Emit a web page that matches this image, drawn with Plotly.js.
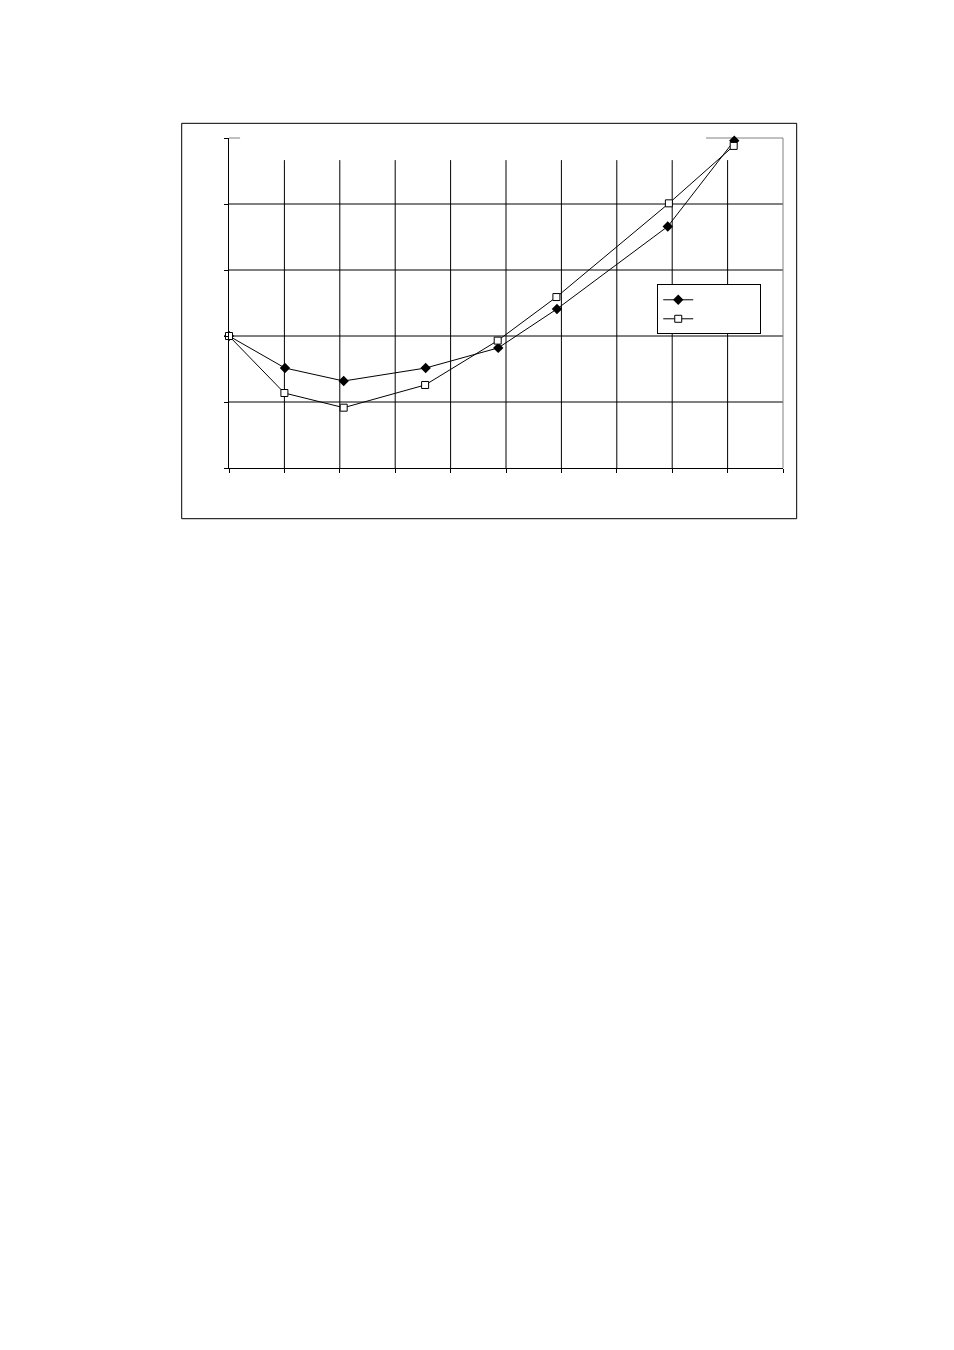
<!DOCTYPE html>
<html>
<head>
<meta charset="utf-8">
<script src="https://cdn.plot.ly/plotly-3.0.1.min.js"></script>
<style>
  body { margin: 0; background: #ffffff; }
  #chart { width: 954px; height: 1350px; }
</style>
</head>
<body>
<div id="chart"></div>
<script>
// gia tri doc tu hinh (don vi = 1 o luoi)
var xDiamond = [0, 1.01, 2.07, 3.55, 4.86, 5.92, 7.92, 9.12];
var yDiamond = [2.0, 1.515, 1.318, 1.515, 1.82, 2.41, 3.66, 4.96];

var xSquare = [0, 1.0, 2.07, 3.54, 4.85, 5.91, 7.94, 9.11];
var ySquare = [2.0, 1.136, 0.914, 1.258, 1.93, 2.59, 4.01, 4.88];

var xTicks = [0, 1, 2, 3, 4, 5, 6, 7, 8, 9, 10];
var yTicks = [0, 1, 2, 3, 4, 5];

// ten chuoi de trong (chi giu do rong o chu thich)
var nameDiamond = '\u00a0'.repeat(17);
var nameSquare = '\u00a0'.repeat(17);

var trace1 = {
    x: xDiamond,
    y: yDiamond,
    name: nameDiamond,
    type: 'scatter',
    mode: 'lines+markers',
    cliponaxis: false,
    line: { color: 'black', width: 1 },
    marker: { symbol: 'diamond', size: 8, color: 'black' }
};
var trace2 = {
    x: xSquare,
    y: ySquare,
    name: nameSquare,
    type: 'scatter',
    mode: 'lines+markers',
    cliponaxis: false,
    line: { color: 'black', width: 1 },
    marker: { symbol: 'square', size: 7, color: 'white', line: { color: 'black', width: 1 } }
};

var shapes = [];
// luoi doc (bat dau thap hon mep tren)
xTicks.slice(1, -1).forEach(function(v) {
    shapes.push({ type: 'line', layer: 'below', xref: 'x', yref: 'paper',
        x0: v, x1: v, y0: 0, y1: 0.933, line: { color: 'black', width: 1 } });
});
// luoi ngang
yTicks.slice(1, -1).forEach(function(v) {
    shapes.push({ type: 'line', layer: 'below', xref: 'paper', yref: 'y',
        x0: 0, x1: 1, y0: v, y1: v, line: { color: 'black', width: 1 } });
});
// vien xam cua vung ve
shapes.push({ type: 'line', layer: 'below', xref: 'paper', yref: 'paper',
    x0: 1, x1: 1, y0: 0, y1: 1, line: { color: '#808080', width: 1 } });
shapes.push({ type: 'line', layer: 'below', xref: 'paper', yref: 'paper',
    x0: 0, x1: 0.02, y0: 1, y1: 1, line: { color: '#808080', width: 1 } });
shapes.push({ type: 'line', layer: 'below', xref: 'paper', yref: 'paper',
    x0: 0.861, x1: 1, y0: 1, y1: 1, line: { color: '#808080', width: 1 } });
// khung ngoai
shapes.push({ type: 'rect', layer: 'below', xref: 'paper', yref: 'paper',
    x0: -0.0854, x1: 1.0247, y0: -0.1536, y1: 1.0445, line: { color: 'black', width: 1 } });

var layout = {
    width: 954,
    height: 1350,
    margin: { l: 229, r: 171, t: 138, b: 882 },
    paper_bgcolor: '#ffffff',
    plot_bgcolor: '#ffffff',
    font: { family: 'Liberation Sans, Arial, sans-serif', size: 12, color: 'black' },
    showlegend: true,
    legend: {
        x: 0.773, y: 0.5567, xanchor: 'left', yanchor: 'top',
        bgcolor: 'white', bordercolor: 'black', borderwidth: 1,
        tracegroupgap: 0,
        font: { size: 12 }
    },
    xaxis: {
        range: [0, 10],
        tickvals: xTicks,
        showticklabels: false,
        ticks: 'outside', ticklen: 4, tickcolor: 'black',
        showgrid: false, zeroline: false,
        showline: true, linecolor: 'black', linewidth: 1
    },
    yaxis: {
        range: [0, 5],
        tickvals: yTicks,
        showticklabels: false,
        ticks: 'outside', ticklen: 4, tickcolor: 'black',
        showgrid: false, zeroline: false,
        showline: true, linecolor: 'black', linewidth: 1
    },
    shapes: shapes
};

Plotly.newPlot('chart', [trace1, trace2], layout, { displayModeBar: false, staticPlot: true });
</script>
</body>
</html>
